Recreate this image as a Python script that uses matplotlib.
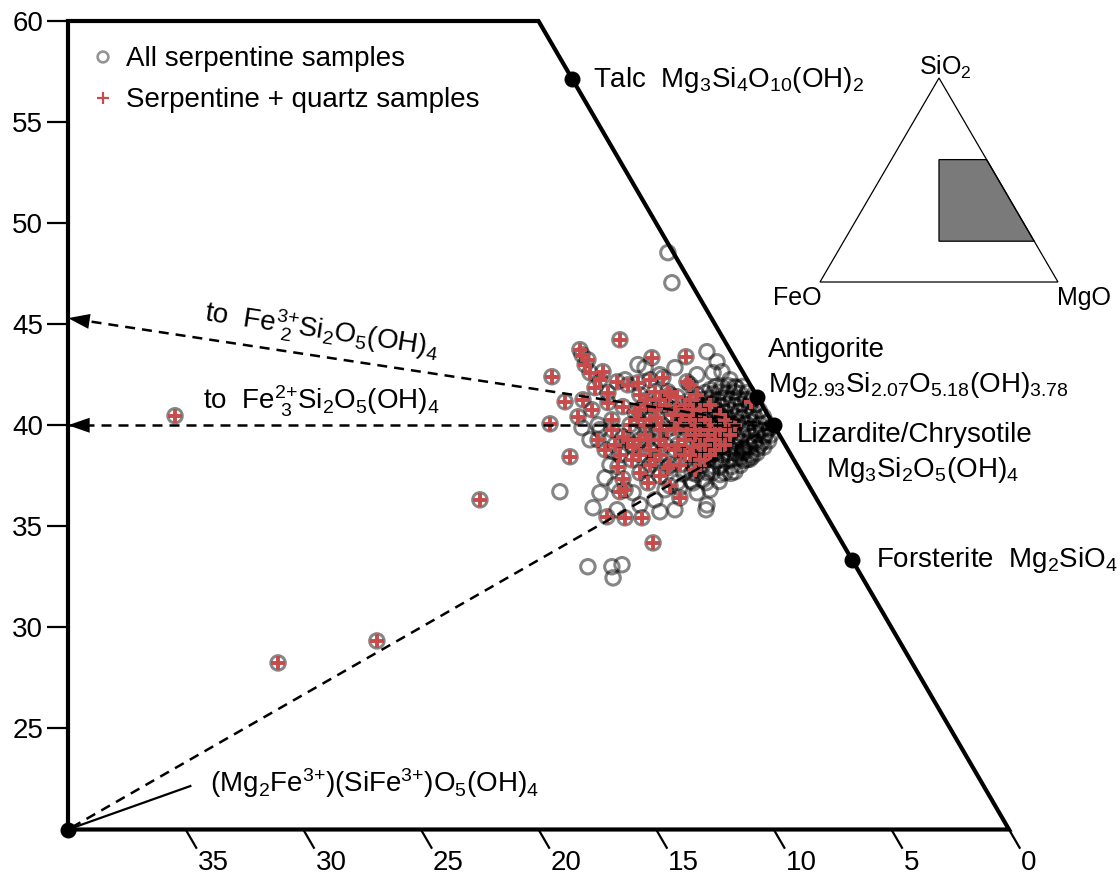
import numpy as np
import matplotlib
matplotlib.use("Agg")
import matplotlib.pyplot as plt
from matplotlib.patches import Polygon

plt.rcParams['font.family'] = ['Liberation Sans', 'DejaVu Sans']
plt.rcParams['mathtext.default'] = 'regular'

# Sample positions: x is read on the FeO scale along the base of the diagram,
# y is SiO2 (mol %).
# Serpentine samples without quartz
serp_x = [14.50, 14.33, 19.09, 17.90, 16.88, 16.83, 16.45, 17.39, 17.68, 16.66,
          15.98, 15.77, 12.88, 18.15, 17.47, 16.83, 15.39, 12.84, 12.41, 12.20,
          12.58, 11.86, 11.65, 13.26, 12.71, 16.32, 15.47, 14.84, 14.20, 12.84,
          13.26, 12.71, 12.07, 11.65, 11.14, 11.22, 13.47, 13.99, 12.28, 12.62,
          13.01, 13.43, 11.73, 11.31, 10.92, 10.80, 11.43, 10.58, 10.37, 10.16,
          17.39, 17.81, 16.96, 17.17, 16.75, 15.69, 15.05, 14.62, 14.20, 14.84,
          # dense core next to the serpentine join
          11.32, 11.58, 11.93, 12.21, 12.47,
          11.12, 11.43, 11.68, 12.02, 12.31, 12.58, 12.93,
          10.91, 11.18, 11.52, 11.79, 12.12, 12.38, 12.71, 12.98, 13.33,
          10.76, 11.03, 11.37, 11.64, 11.97, 12.23, 12.57, 12.83, 13.18, 13.44,
          10.61, 10.88, 11.22, 11.49, 11.82, 12.08, 12.42, 12.68, 13.02, 13.29, 13.62,
          10.44, 10.77, 11.03, 11.36, 11.63, 11.97, 12.24, 12.56, 12.82, 13.17, 13.43, 13.78,
          10.31, 10.58, 10.92, 11.18, 11.52, 11.78, 12.12, 12.38, 12.72, 12.98, 13.32, 13.58,
          10.19, 10.52, 10.78, 11.12, 11.38, 11.72, 11.98, 12.32, 12.58, 12.92, 13.18, 13.52,
          10.12, 10.38, 10.72, 10.98, 11.32, 11.58, 11.92, 12.18, 12.52, 12.78, 13.12, 13.38,
          10.22, 10.48, 10.82, 11.08, 11.42, 11.68, 12.02, 12.28, 12.62, 12.88, 13.22,
          10.42, 10.68, 11.02, 11.28, 11.62, 11.88, 12.22, 12.48, 12.82, 13.08,
          10.72, 10.98, 11.32, 11.58, 11.92, 12.18, 12.52, 12.78, 13.12,
          11.02, 11.28, 11.62, 11.88, 12.22, 12.48, 12.82, 13.18,
          11.42, 11.78, 12.22, 12.58, 13.02, 13.38,
          11.82, 12.28, 12.82, 13.28, 13.82,
          12.32, 12.88, 13.52, 14.08]
serp_sio2 = [48.54, 47.05, 36.71, 33.00, 33.00, 32.45, 33.10, 36.66, 35.92, 35.82,
             36.66, 43.00, 35.82, 39.88, 40.02, 38.69, 37.80, 43.64, 43.14, 42.65,
             42.60, 42.25, 41.91, 42.50, 41.76, 42.25, 42.85, 42.50, 42.85, 36.06,
             36.66, 36.81, 37.65, 37.70, 38.29, 38.69, 37.65, 36.90, 37.95, 37.65,
             37.30, 37.15, 38.79, 38.79, 38.44, 39.13, 38.39, 39.03, 39.53, 39.88,
             39.78, 39.28, 38.04, 37.40, 37.05, 36.06, 36.31, 36.81, 35.82, 35.72,
             41.92, 41.86, 41.95, 41.88, 41.91,
             41.62, 41.57, 41.65, 41.58, 41.64, 41.56, 41.61,
             41.32, 41.26, 41.35, 41.27, 41.33, 41.25, 41.34, 41.28, 41.31,
             41.02, 40.96, 41.05, 40.97, 41.03, 40.95, 41.04, 40.98, 41.01, 40.96,
             40.72, 40.66, 40.75, 40.67, 40.73, 40.65, 40.74, 40.68, 40.71, 40.66, 40.73,
             40.42, 40.36, 40.45, 40.37, 40.43, 40.35, 40.44, 40.38, 40.41, 40.36, 40.43, 40.38,
             40.12, 40.06, 40.15, 40.07, 40.13, 40.05, 40.14, 40.08, 40.11, 40.06, 40.13, 40.08,
             39.82, 39.76, 39.85, 39.77, 39.83, 39.75, 39.84, 39.78, 39.81, 39.76, 39.83, 39.78,
             39.52, 39.46, 39.55, 39.47, 39.53, 39.45, 39.54, 39.48, 39.51, 39.46, 39.53, 39.48,
             39.22, 39.16, 39.25, 39.17, 39.23, 39.15, 39.24, 39.18, 39.21, 39.16, 39.23,
             38.92, 38.86, 38.95, 38.87, 38.93, 38.85, 38.94, 38.88, 38.91, 38.86,
             38.62, 38.56, 38.65, 38.57, 38.63, 38.55, 38.64, 38.58, 38.61,
             38.32, 38.26, 38.35, 38.27, 38.33, 38.25, 38.34, 38.28,
             38.02, 37.96, 38.05, 37.97, 38.03, 37.98,
             37.62, 37.56, 37.65, 37.57, 37.63,
             37.22, 37.16, 37.25, 37.18]

# Serpentine + quartz samples
qtz_x = [35.45, 22.49, 31.07, 26.87, 19.43, 19.51, 18.66, 18.87, 18.32, 17.47,
         16.54, 15.18, 18.15, 18.02, 17.81, 17.26, 17.39, 16.66, 17.60, 17.05,
         16.20, 15.77, 15.26, 14.71, 13.69, 14.11, 13.56, 16.41, 15.90, 15.39,
         14.96, 14.54, 15.35, 15.98, 16.41, 14.41, 13.69, 13.43, 14.84, 14.41,
         16.62, 15.69, 16.41, 16.54, 16.32, 17.09, 16.32, 15.60, 15.13, 13.99,
         13.73, 10.97, 13.13, 12.92, 12.50, 12.71, 13.43, 13.99, 14.07, 13.77,
         14.84, 15.69, 15.26, 15.98, 14.84, 13.13, 17.05, 15.69, 15.05, 14.50,
         16.11, 15.47, 14.84, 14.33, 13.56, 13.13, 12.71, 12.28, 12.50, 12.92,
         13.35, 12.28, 15.26, 14.62, 15.69, 16.54, 16.88, 18.11, 17.73, 13.26,
         12.79, 12.07, 11.65, 15.35, 16.03, 18.24, 17.90,
         15.47, 15.05, 14.62, 14.20, 13.77, 13.56, 15.26, 14.75, 14.20, 13.77,
         13.35, 12.92, 12.71, 13.56, 14.20, 14.84, 15.47, 15.77, 16.20, 15.05,
         14.50, 13.99, 13.13, 12.50, 12.28, 12.07, 11.86, 13.35, 14.41, 13.90,
         15.69, 16.88, 17.17, 16.75]
qtz_sio2 = [40.47, 36.31, 28.24, 29.33, 42.40, 40.07, 38.44, 41.16, 40.42, 39.28,
            44.23, 43.34, 43.49, 43.00, 42.60, 42.65, 42.25, 42.15, 41.86, 41.61,
            42.00, 42.10, 42.25, 42.35, 42.15, 41.41, 42.01, 40.92, 40.67, 41.26,
            40.37, 39.78, 39.28, 38.94, 39.43, 38.04, 39.78, 38.94, 37.49, 37.00,
            37.94, 37.65, 37.35, 36.71, 36.81, 35.47, 35.42, 35.42, 34.18, 36.41,
            43.39, 41.16, 40.77, 40.27, 39.28, 41.02, 40.77, 40.02, 39.03, 38.54,
            38.54, 38.54, 38.04, 39.03, 41.26, 39.03, 41.12, 41.51, 41.66, 41.66,
            40.02, 40.02, 39.78, 40.52, 40.27, 39.78, 40.02, 39.78, 38.79, 38.29,
            37.80, 40.52, 38.79, 39.03, 39.28, 38.54, 39.78, 41.26, 40.77, 41.51,
            39.53, 39.03, 40.02, 37.15, 38.29, 43.74, 43.24,
            41.02, 40.77, 41.02, 40.77, 41.02, 41.26, 40.27, 40.02, 39.88, 39.28,
            39.53, 39.03, 38.54, 38.54, 38.79, 39.28, 39.53, 40.27, 39.28, 38.29,
            37.90, 38.04, 38.29, 39.78, 39.03, 40.27, 39.53, 40.02, 41.51, 40.52,
            40.77, 40.27, 38.79, 39.03]

# Reference compositions (mol % FeO, mol % SiO2)
talc = (0.0, 400 / 7)
antigorite = (0.0, 41.4)
lizardite = (0.0, 40.0)
forsterite = (0.0, 100 / 3)
fe3_serpentine = (40.0, 20.0)
# Where the trends towards the Fe end members leave the diagram (base FeO scale, SiO2)
fe3_end_exit = (40.0, 45.3)
fe2_end_exit = (40.0, 40.0)

base_ticks = [35, 30, 25, 20, 15, 10, 5, 0]
sio2_ticks = [25, 30, 35, 40, 45, 50, 55, 60]

RED = '#c84b4b'


def base_pos(feo, sio2):
    """Position on the base FeO scale: iso-FeO lines run parallel to the MgO-SiO2 join."""
    return feo + (sio2 - 20.0) / 2.0


fig = plt.figure(figsize=(11.2, 8.82), dpi=100)
ax = fig.add_axes([68 / 1120, 52.5 / 882, 941 / 1120, 808.5 / 882])
ax.set_xlim(40, 0)
ax.set_ylim(20, 60)
for sp in ax.spines.values():
    sp.set_visible(False)
ax.set_xticks([])
ax.set_yticks(sio2_ticks)
ax.set_yticklabels([str(t) for t in sio2_ticks])
ax.tick_params(axis='y', length=15, width=1.6, pad=3, labelsize=20, colors='black')

# Diagram outline: FeO-rich side, SiO2 = 60 cut, Mg-Si join, SiO2 = 20 base
outline = Polygon([[40, 20], [40, 60], [base_pos(0, 60), 60], [0, 20]], closed=True,
                  fill=False, edgecolor='black', lw=3, joinstyle='miter', clip_on=False,
                  zorder=5)
ax.add_patch(outline)

# Slanted base ticks, along iso-FeO lines
d = 0.95
for t in base_ticks:
    ax.plot([t, t - d / 2], [20, 20 - d], color='black', lw=1.6, clip_on=False,
            solid_capstyle='butt', zorder=5)
    ax.annotate(str(t), xy=(t - d / 2, 20 - d), xytext=(1, -1), textcoords='offset pixels',
                ha='left', va='top', fontsize=20, annotation_clip=False)

# Samples
all_x = serp_x + qtz_x
all_sio2 = serp_sio2 + qtz_sio2
ax.scatter(all_x, all_sio2, s=108, facecolors='none', edgecolors=(0, 0, 0, 0.48),
           linewidths=2.2, zorder=2)
ax.scatter(qtz_x, qtz_sio2, marker='+', s=95, c=RED, linewidths=2.8, zorder=3)

# Trend lines from lizardite
liz_u = base_pos(*lizardite)
dash = (0, (4, 2.8))
ax.plot([liz_u, base_pos(*fe3_serpentine)], [lizardite[1], fe3_serpentine[1]],
        color='black', lw=1.8, ls=dash, zorder=4)
for end in (fe2_end_exit, fe3_end_exit):
    ax.plot([liz_u, end[0]], [lizardite[1], end[1]], color='black', lw=1.8, ls=dash, zorder=4)
    # arrow head at the left edge
    back = (end[0] - 1.2 * (end[0] - liz_u) / abs(end[0] - liz_u),
            end[1] - 1.2 * (end[1] - lizardite[1]) / abs(end[0] - liz_u))
    ax.annotate('', xy=end, xytext=back,
                arrowprops=dict(arrowstyle='-|>,head_length=1.3,head_width=0.45',
                                mutation_scale=12, color='black', lw=0,
                                shrinkA=0, shrinkB=0), zorder=6)

# Reference phases
phases = [talc, antigorite, lizardite, forsterite, fe3_serpentine]
ax.scatter([base_pos(*p) for p in phases], [p[1] for p in phases], s=110, c='black',
           zorder=7, clip_on=False)

txt = dict(fontsize=20, ha='left', va='baseline', textcoords='offset pixels',
           annotation_clip=False)
ax.annotate(r'Talc  Mg$_3$Si$_4$O$_{10}$(OH)$_2$', xy=(base_pos(*talc), talc[1]),
            xytext=(21, -8), **txt)
ax.annotate('Antigorite', xy=(base_pos(*antigorite), antigorite[1]), xytext=(11, 40), **txt)
ax.annotate(r'Mg$_{2.93}$Si$_{2.07}$O$_{5.18}$(OH)$_{3.78}$',
            xy=(base_pos(*antigorite), antigorite[1]), xytext=(11, 5), **txt)
ax.annotate('Lizardite/Chrysotile', xy=(liz_u, lizardite[1]), xytext=(23, -17), **txt)
ax.annotate(r'Mg$_3$Si$_2$O$_5$(OH)$_4$', xy=(liz_u, lizardite[1]), xytext=(52, -52), **txt)
ax.annotate(r'Forsterite  Mg$_2$SiO$_4$', xy=(base_pos(*forsterite), forsterite[1]),
            xytext=(24, -7), **txt)
ax.annotate(r'(Mg$_2$Fe$^{3{+}}$)(SiFe$^{3{+}}$)O$_5$(OH)$_4$',
            xy=(base_pos(*fe3_serpentine), fe3_serpentine[1]), xytext=(142, 37), **txt)
# leader line to the Fe3+ serpentine corner
ax.plot([40, 34.8], [20, 22.15], color='black', lw=1.6, zorder=4)

# Labels for the arrows
ax.text(34.26, 40.77, r'to  Fe$^{2{+}}_{\ 3}$Si$_2$O$_5$(OH)$_4$', fontsize=20,
        ha='left', va='baseline')
p1 = ax.transData.transform(fe3_end_exit)
p2 = ax.transData.transform((liz_u, lizardite[1]))
ang = np.degrees(np.arctan2(p2[1] - p1[1], p2[0] - p1[0]))
ax.text(34.26, 45.12, r'to  Fe$^{3{+}}_{\ 2}$Si$_2$O$_5$(OH)$_4$', fontsize=20,
        ha='left', va='baseline', rotation=ang, rotation_mode='anchor')

# Legend
ax.scatter([0.0372], [0.9555], s=60, facecolors='none', edgecolors=(0, 0, 0, 0.42),
           linewidths=1.9, transform=ax.transAxes, clip_on=False)
ax.text(0.0616, 0.9443, 'All serpentine samples', transform=ax.transAxes,
        fontsize=20, va='baseline')
ax.scatter([0.0372], [0.9048], marker='+', s=65, c=RED, linewidths=1.6,
           transform=ax.transAxes, clip_on=False)
ax.text(0.0616, 0.8935, 'Serpentine + quartz samples', transform=ax.transAxes,
        fontsize=20, va='baseline')

# Inset: FeO-MgO-SiO2 triangle with the plotted field shaded
ins = fig.add_axes([820 / 1120, (882 - 282) / 882, 238 / 1120, 204 / 882])
ins.set_xlim(0, 1)
ins.set_ylim(0, np.sqrt(3) / 2)
ins.axis('off')


def tern(feo, mgo, sio2):
    tot = feo + mgo + sio2
    return (mgo + sio2 / 2) / tot, (sio2 / tot) * np.sqrt(3) / 2


field = [(20, 20, 60), (0, 40, 60), (0, 80, 20), (40, 40, 20)]
ins.add_patch(Polygon([tern(*c) for c in field], closed=True, facecolor='#7a7a7a',
                      edgecolor='black', lw=0.9, clip_on=False))
tri = [tern(100, 0, 0), tern(0, 100, 0), tern(0, 0, 100)]
ins.add_patch(Polygon(tri, closed=True, fill=False, edgecolor='black', lw=0.9,
                      clip_on=False))
ins.text(0.525, 0.88, r'SiO$_2$', fontsize=18, ha='center', va='baseline')
ins.text(-0.095, -0.098, 'FeO', fontsize=18, ha='center', va='baseline')
ins.text(1.11, -0.098, 'MgO', fontsize=18, ha='center', va='baseline')

fig.savefig('out.png', dpi=100)
